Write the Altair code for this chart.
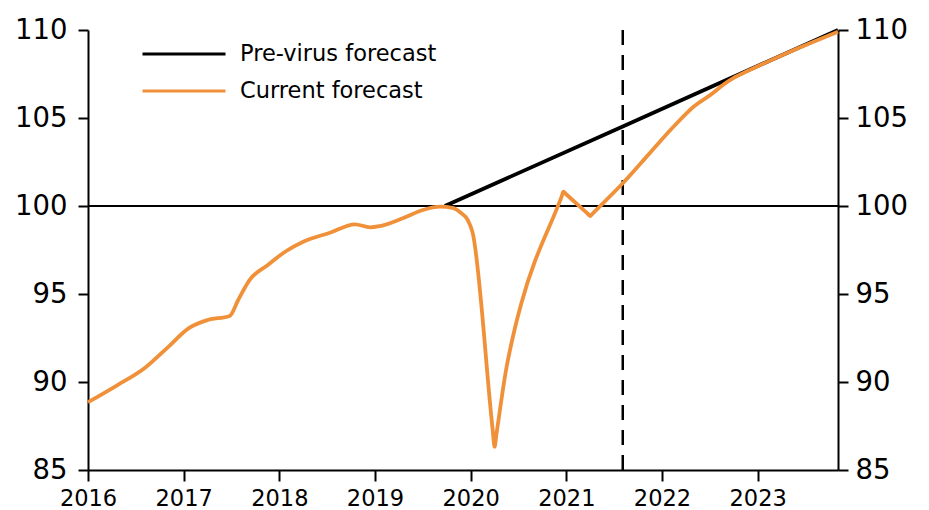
import altair as alt
import pandas as pd

# ---- data ----
series_names = ["Pre-virus forecast", "Current forecast"]
series_colors = ["#000000", "#F0913A"]

pre_years = [2019.73, 2021.59, 2023.84]
pre_values = [100.0, 104.52, 110.0]

cur_years = [2016.00, 2016.30, 2016.59, 2016.84, 2017.05, 2017.25, 2017.48, 2017.57,
             2017.69, 2017.88, 2018.06, 2018.25, 2018.53, 2018.79, 2018.95, 2019.05,
             2019.29, 2019.50, 2019.68, 2019.82, 2019.90, 2019.97, 2020.02, 2020.23,
             2020.25, 2020.27, 2020.37, 2020.46, 2020.53, 2020.95, 2020.97, 2020.99,
             2021.23, 2021.25, 2021.27, 2021.59, 2021.87, 2022.12, 2022.33, 2022.53,
             2022.63, 2022.75, 2022.90, 2023.09, 2023.44, 2023.84]
cur_values = [88.85, 89.80, 90.78, 92.00, 93.05, 93.52, 93.75, 94.66,
              95.80, 96.65, 97.40, 97.97, 98.48, 98.96, 98.79, 98.86,
              99.30, 99.77, 99.96, 99.88, 99.60, 99.20, 98.50, 87.30,
              86.32, 87.05, 90.68, 93.00, 94.47, 100.52, 100.81, 100.71,
              99.53, 99.43, 99.54, 101.29, 102.99, 104.50, 105.64, 106.40,
              106.85, 107.28, 107.68, 108.16, 109.00, 109.90]

forecast_start = [2021.59]
baseline = [100]

x_ticks = [2016, 2017, 2018, 2019, 2020, 2021, 2022, 2023]
y_ticks = [85, 90, 95, 100, 105, 110]

pre_df = pd.DataFrame({"year": pre_years, "value": pre_values, "series": series_names[0]})
cur_df = pd.DataFrame({"year": cur_years, "value": cur_values, "series": series_names[1]})
vline_df = pd.DataFrame({"year": forecast_start})
base_df = pd.DataFrame({"value": baseline})

FONT = "DejaVu Sans"

xscale = alt.Scale(domain=[2016, 2023.84], nice=False, zero=False)
yscale = alt.Scale(domain=[85, 110], nice=False, zero=False)

x_enc = alt.X("year:Q", scale=xscale,
              axis=alt.Axis(values=x_ticks, format="d", title=None, grid=False,
                            tickSize=11, labelPadding=6, labelFontSize=22.5,
                            labelFlush=False, labelOverlap=False))

y_left = alt.Y("value:Q", scale=yscale,
               axis=alt.Axis(orient="left", values=y_ticks, title=None, grid=False,
                             tickSize=10, labelPadding=11, labelFontSize=27.5,
                             labelOverlap=False))
y_right = alt.Y("value:Q", scale=yscale,
                axis=alt.Axis(orient="right", values=y_ticks, title=None, grid=False,
                              tickSize=10, labelPadding=7, labelFontSize=27.5,
                              labelOverlap=False))
y_none = alt.Y("value:Q", scale=yscale, axis=None)

color_enc = alt.Color(
    "series:N",
    scale=alt.Scale(domain=series_names, range=series_colors),
    legend=alt.Legend(orient="none", legendX=53, legendY=9, title=None,
                      symbolType="stroke", symbolSize=6889, symbolStrokeWidth=3,
                      clipHeight=30, rowPadding=7, labelOffset=13,
                      labelFontSize=22.5, labelFont=FONT, labelColor="black",
                      labelLimit=400, padding=0),
)

rule100 = alt.Chart(base_df).mark_rule(color="black", strokeWidth=2).encode(y=y_right)

vline = alt.Chart(vline_df).mark_rule(
    color="black", strokeWidth=2.5, strokeDash=[15, 10]
).encode(x=x_enc)

pre_line = alt.Chart(pre_df).mark_line(strokeWidth=3.8).encode(
    x=x_enc, y=y_left, color=color_enc
)

cur_line = alt.Chart(cur_df).mark_line(strokeWidth=3.8, interpolate="monotone").encode(
    x=x_enc, y=y_none, color=color_enc
)

chart = (
    alt.layer(rule100, vline, pre_line, cur_line)
    .resolve_axis(y="independent")
    .properties(
        width=750, height=440,
        autosize=alt.AutoSizeParams(type="none"),
        padding={"left": 80, "top": 22, "right": 80, "bottom": 42},
    )
    .configure_view(stroke=None)
    .configure_axis(domainColor="black", domainWidth=2, tickColor="black",
                    tickWidth=2, labelColor="black", labelFont=FONT)
)

chart.save("out.html", embed_options={"renderer": "svg", "actions": False})
